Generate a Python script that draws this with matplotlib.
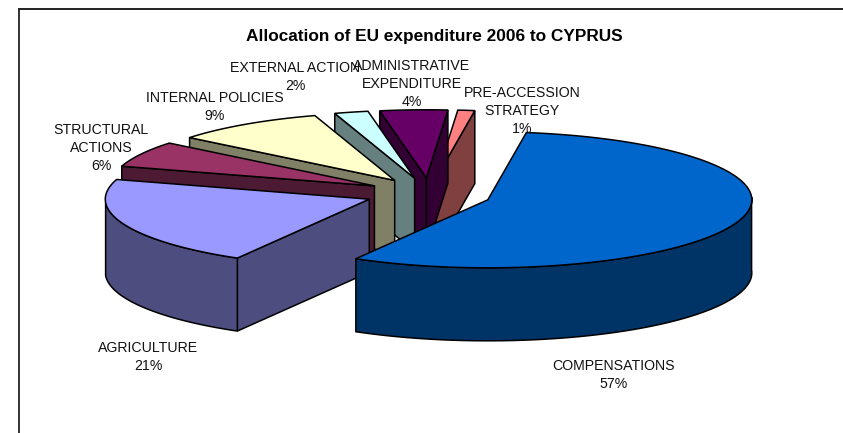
import numpy as np
import matplotlib
matplotlib.use("Agg")
import matplotlib.pyplot as plt
from matplotlib.patches import Polygon

plt.rcParams['font.family'] = ['Liberation Sans', 'DejaVu Sans']

# ---- data ----
categories = ["COMPENSATIONS", "AGRICULTURE", "STRUCTURAL\nACTIONS", "INTERNAL POLICIES",
              "EXTERNAL ACTION", "ADMINISTRATIVE\nEXPENDITURE", "PRE-ACCESSION\nSTRATEGY"]
values = [57, 21, 6, 9, 2, 4, 1]
top_colors = ["#0066CC", "#9999FF", "#993366", "#FFFFCC", "#CCFFFF", "#660066", "#FF8080"]
side_colors = ["#003366", "#4D4D80", "#4D1A33", "#808066", "#668080", "#330033", "#804040"]
label_xy = [(614, 375), (148, 357), (101, 148), (215, 107), (295, 77), (412, 84), (522, 111)]
title = "Allocation of EU expenditure 2006 to CYPRUS"

# ---- pie geometry (pixels) ----
W, H = 843, 433
CX, CY, RX, RY, EXPLODE, DEPTH = 429, 194, 264, 68, 63, 73
START = 8.4
WARP = 3.7  # projection compresses the displayed angle slightly

fig = plt.figure(figsize=(W / 100, H / 100), dpi=100)
ax = fig.add_axes([0, 0, 1, 1])
ax.set_xlim(0, W)
ax.set_ylim(H, 0)
ax.axis("off")


def pt(theta):
    th = np.asarray(theta, dtype=float)
    t = np.radians(th - WARP * np.sin(np.radians((th - START) / 2)))
    return np.sin(t) * RX, -np.cos(t) * RY


def poly(xy, fc, z):
    ax.add_patch(Polygon(np.array(xy), closed=True, fc=fc, ec="black", lw=1.1,
                         joinstyle="miter", zorder=z))


fracs = np.array(values) / sum(values) * 360
starts = START + np.concatenate([[0], np.cumsum(fracs)[:-1]])
order = [6, 5, 4, 3, 2, 1, 0]
for z, i in enumerate(order):
    a0, a1 = starts[i], starts[i] + fracs[i]
    mid = np.radians((a0 + a1) / 2)
    ox = CX + np.sin(mid) * EXPLODE
    oy = CY - np.cos(mid) * EXPLODE * RY / RX
    base = z * 10
    s0 = np.sin(np.radians(a0))
    s1 = np.sin(np.radians(a1))
    # radial walls
    if s0 < 0:
        p = pt(a0)
        poly([(ox, oy), (ox + p[0], oy + p[1]), (ox + p[0], oy + p[1] + DEPTH), (ox, oy + DEPTH)],
             side_colors[i], base)
    if s1 > 0:
        p = pt(a1)
        poly([(ox, oy), (ox + p[0], oy + p[1]), (ox + p[0], oy + p[1] + DEPTH), (ox, oy + DEPTH)],
             side_colors[i], base + 1)
    # outer wall
    lo, hi = max(a0, 90), min(a1, 270)
    if hi > lo:
        th = np.linspace(lo, hi, 80)
        px, py = pt(th)
        xy = np.column_stack([ox + px, oy + py])
        poly(np.vstack([xy, (xy + [0, DEPTH])[::-1]]), side_colors[i], base + 2)
    # top face
    th = np.linspace(a0, a1, 100)
    px, py = pt(th)
    poly(np.vstack([[ox, oy], np.column_stack([ox + px, oy + py])]), top_colors[i], base + 3)

for cat, v, (lx, ly) in zip(categories, values, label_xy):
    ax.text(lx, ly, f"{cat}\n{v}%", ha="center", va="center", fontsize=10.2,
            linespacing=1.38, color="#111111", zorder=100)

ax.text(434.5, 36, title, ha="center", va="center", fontsize=12.4, fontweight="bold", zorder=100)

# chart frame
ax.plot([18.5, 18.5], [433, 8.5], color="#333333", lw=1.4, zorder=1, solid_capstyle="butt")
ax.plot([18, 843], [8.7, 8.7], color="#222222", lw=1.4, zorder=1, solid_capstyle="butt")

fig.savefig("out.png", dpi=100)
